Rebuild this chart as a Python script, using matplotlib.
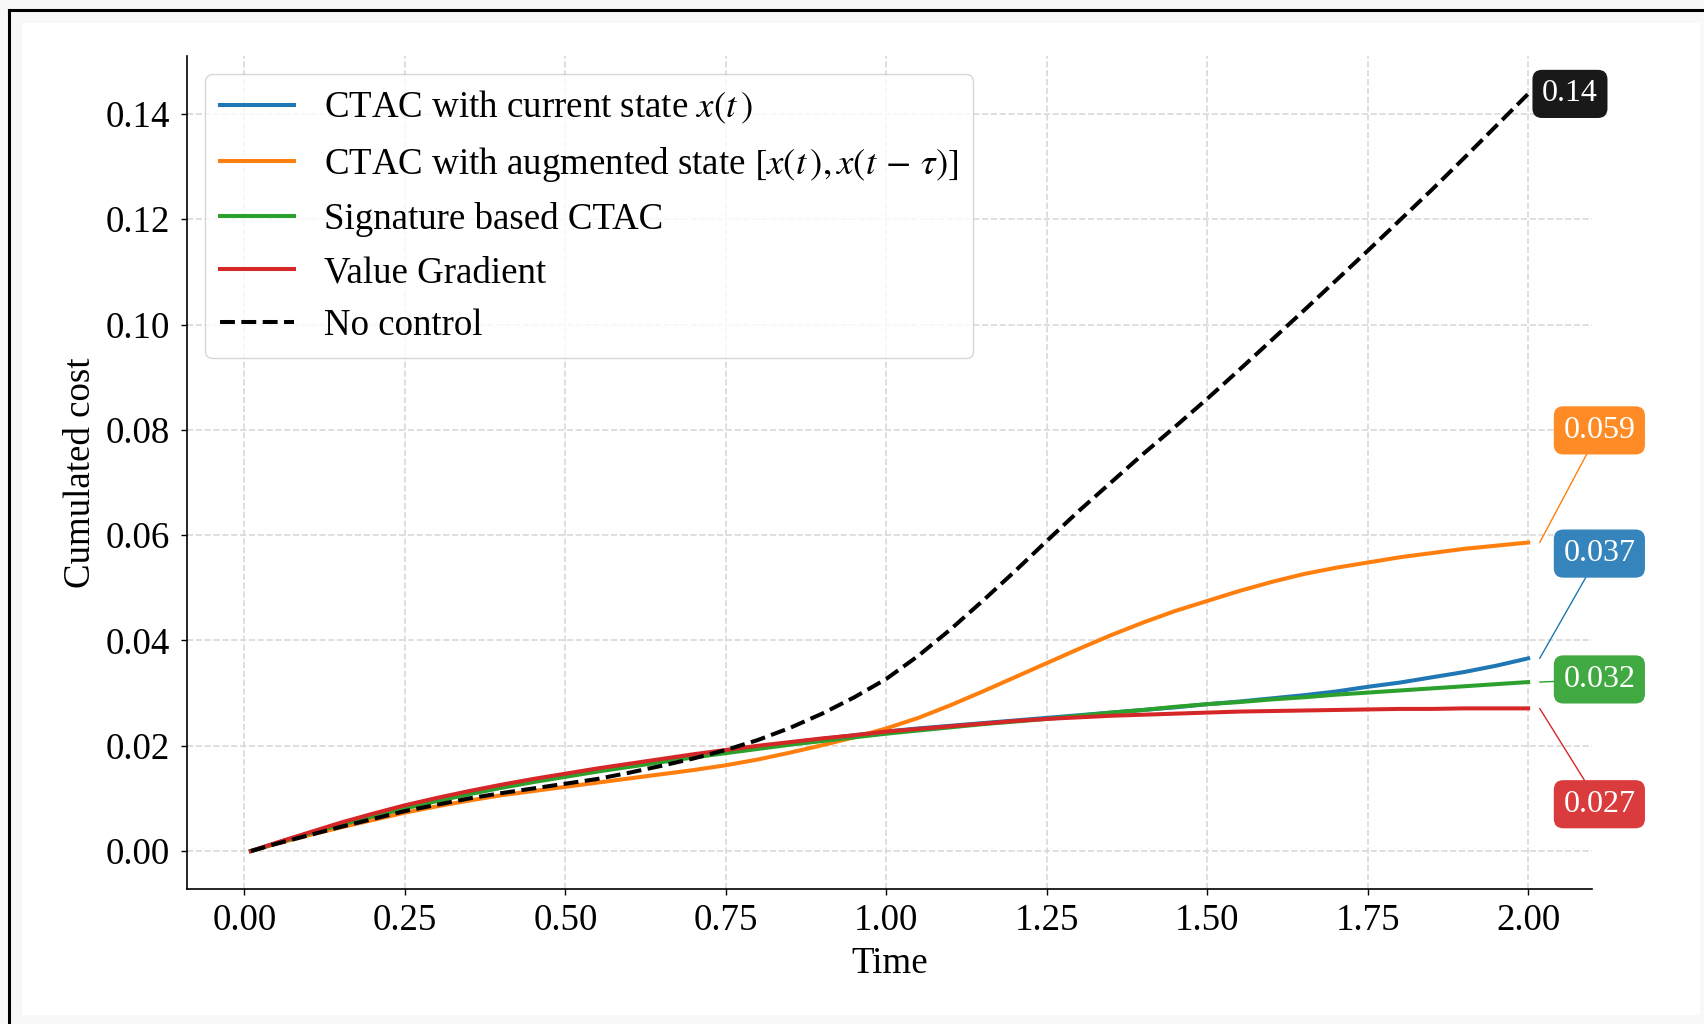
import numpy as np
import matplotlib
matplotlib.use("Agg")
import matplotlib.pyplot as plt
from matplotlib.patches import Rectangle
from matplotlib.lines import Line2D

plt.rcParams['font.family'] = ['Liberation Serif', 'DejaVu Serif']
plt.rcParams['mathtext.fontset'] = 'stix'

# time grid of the simulation
time = np.array([0.01] + [round(0.05 * k, 2) for k in range(1, 41)])

cost_current = [0.0000, 0.0015, 0.0034, 0.0052, 0.0069, 0.0085, 0.0099, 0.0112, 0.0124, 0.0135,
                0.0145, 0.0155, 0.0164, 0.0173, 0.0182, 0.0190, 0.0198, 0.0206, 0.0213, 0.0220,
                0.0227, 0.0233, 0.0238, 0.0243, 0.0248, 0.0253, 0.0258, 0.0263, 0.0268, 0.0273,
                0.0279, 0.0284, 0.0290, 0.0296, 0.0303, 0.0312, 0.0320, 0.0330, 0.0340, 0.0352,
                0.0366]
cost_augmented = [0.0000, 0.0014, 0.0030, 0.0045, 0.0059, 0.0073, 0.0085, 0.0096, 0.0106, 0.0114,
                  0.0122, 0.0130, 0.0138, 0.0146, 0.0154, 0.0163, 0.0174, 0.0187, 0.0201, 0.0216,
                  0.0233, 0.0253, 0.0277, 0.0303, 0.0330, 0.0357, 0.0384, 0.0410, 0.0434, 0.0456,
                  0.0475, 0.0494, 0.0511, 0.0526, 0.0538, 0.0548, 0.0558, 0.0566, 0.0574, 0.0580,
                  0.0586]
cost_signature = [0.0000, 0.0015, 0.0033, 0.0050, 0.0066, 0.0081, 0.0095, 0.0108, 0.0120, 0.0131,
                  0.0141, 0.0151, 0.0160, 0.0169, 0.0178, 0.0186, 0.0194, 0.0202, 0.0209, 0.0216,
                  0.0223, 0.0229, 0.0235, 0.0241, 0.0246, 0.0251, 0.0257, 0.0263, 0.0268, 0.0274,
                  0.0279, 0.0283, 0.0288, 0.0292, 0.0297, 0.0301, 0.0305, 0.0309, 0.0313, 0.0317,
                  0.0321]
cost_value_grad = [0.0000, 0.0016, 0.0035, 0.0054, 0.0071, 0.0087, 0.0101, 0.0114, 0.0126, 0.0137,
                   0.0147, 0.0157, 0.0166, 0.0175, 0.0184, 0.0192, 0.0200, 0.0207, 0.0214, 0.0220,
                   0.0227, 0.0232, 0.0237, 0.0242, 0.0247, 0.0251, 0.0254, 0.0257, 0.0259, 0.0261,
                   0.0263, 0.0265, 0.0266, 0.0267, 0.0268, 0.0269, 0.0270, 0.0270, 0.0271, 0.0271,
                   0.0271]
cost_no_control = [0.0000, 0.0014, 0.0030, 0.0046, 0.0061, 0.0076, 0.0088, 0.0100, 0.0110, 0.0119,
                   0.0128, 0.0137, 0.0149, 0.0162, 0.0176, 0.0192, 0.0211, 0.0234, 0.0261, 0.0292,
                   0.0327, 0.0371, 0.0421, 0.0475, 0.0531, 0.0589, 0.0646, 0.0700, 0.0754, 0.0806,
                   0.0859, 0.0914, 0.0970, 0.1026, 0.1083, 0.1140, 0.1198, 0.1256, 0.1316, 0.1377,
                   0.1438]

labels = ["CTAC with current state $x(t\\,)$",
          "CTAC with augmented state $[x(t\\,), x(t\\,-\\,\\tau)]$",
          "Signature based CTAC",
          "Value Gradient",
          "No control"]
series = [cost_current, cost_augmented, cost_signature, cost_value_grad, cost_no_control]
colors = ["tab:blue", "tab:orange", "tab:green", "tab:red", "black"]
styles = ["-", "-", "-", "-", "--"]

# vertical slots of the end-value tags (data units), so they don't overlap
tag_y = {"tab:orange": 0.0799, "tab:blue": 0.0565, "tab:green": 0.0326, "tab:red": 0.0089}

FS = 26.6

fig = plt.figure(figsize=(17.04, 10.24), dpi=100, facecolor="#f8f8f8")
fig.patches.append(Rectangle((22 / 1704, 1 - 1015 / 1024), 1678 / 1704, 992 / 1024,
                             transform=fig.transFigure, facecolor="white", edgecolor="none", zorder=-2))
fig.lines.append(Line2D([8.5 / 1704, 1.0], [1 - 10 / 1024, 1 - 10 / 1024], transform=fig.transFigure,
                        color="black", lw=2.2, zorder=-1))
fig.lines.append(Line2D([8.5 / 1704, 8.5 / 1704], [0.0, 1 - 10 / 1024], transform=fig.transFigure,
                        color="black", lw=2.2, zorder=-1))

ax = fig.add_axes([187 / 1704, 1 - 889 / 1024, (1592 - 187) / 1704, (889 - 56) / 1024])
ax.set_facecolor("none")

for lab, y, c, ls in zip(labels, series, colors, styles):
    ax.plot(time, y, ls, color=c, lw=2.9, label=lab)

ax.set_xticks([0.0, 0.25, 0.5, 0.75, 1.0, 1.25, 1.5, 1.75, 2.0])
ax.set_xticklabels([f"{v:.2f}" for v in ax.get_xticks()])
ax.set_yticks([0.0, 0.02, 0.04, 0.06, 0.08, 0.10, 0.12, 0.14])
ax.set_yticklabels([f"{v:.2f}" for v in ax.get_yticks()])
ax.set_xlim(-0.0895, 2.0995)
ax.set_ylim(-0.0072, 0.1510)
ax.tick_params(labelsize=FS, length=4.5, width=1.0)
ax.tick_params(axis="x", pad=6)
ax.tick_params(axis="y", pad=8)
ax.set_xlabel("Time", fontsize=FS, labelpad=6)
ax.set_ylabel("Cumulated cost", fontsize=FS, labelpad=5.5)
ax.grid(True, ls="--", color="#d9d9d9", lw=1.2)
ax.spines["top"].set_visible(False)
ax.spines["right"].set_visible(False)
for s in ("left", "bottom"):
    ax.spines[s].set_linewidth(1.2)

# end-value tags
for y, c in zip(series, colors):
    v = y[-1]
    if c == "black":
        ax.annotate(f"{v:.2g}", xy=(time[-1], v), xytext=(10, 0), textcoords="offset points",
                    ha="left", va="center", color="white", fontsize=23,
                    bbox=dict(boxstyle="round,pad=0.3", fc=c, ec="none", alpha=0.9),
                    annotation_clip=False)
    else:
        ax.annotate(f"{v:.2g}", xy=(time[-1] + 0.018, v), xytext=(2.111, tag_y[c]),
                    ha="center", va="center", color="white", fontsize=23,
                    bbox=dict(boxstyle="round,pad=0.3", fc=c, ec="none", alpha=0.9),
                    arrowprops=dict(arrowstyle="-", color=c, lw=1.0, shrinkA=0, shrinkB=0),
                    annotation_clip=False)

leg = ax.legend(loc="upper left", fontsize=FS, frameon=True, fancybox=True)
leg.get_frame().set_edgecolor("#cccccc")

fig.savefig("out.png", dpi=100, facecolor=fig.get_facecolor())
